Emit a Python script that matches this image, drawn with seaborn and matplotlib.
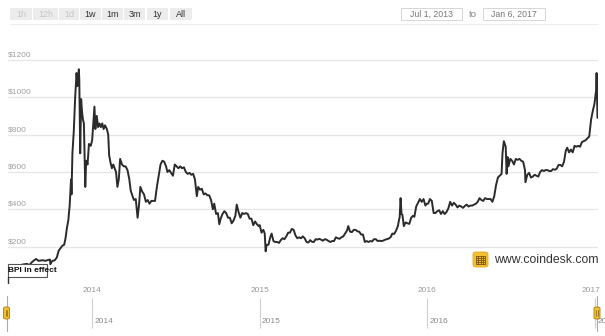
import matplotlib
matplotlib.use("Agg")
import matplotlib.pyplot as plt
import seaborn as sns
import pandas as pd
from matplotlib.patches import Rectangle, FancyBboxPatch
from matplotlib.lines import Line2D
import matplotlib.transforms as mtransforms

# ---------------- data ----------------
dates_2013 = ["2013-07-01", "2013-07-05", "2013-07-09", "2013-07-13", "2013-07-18", "2013-07-23",
              "2013-07-28", "2013-08-02", "2013-08-07", "2013-08-12", "2013-08-17", "2013-08-22",
              "2013-08-27", "2013-09-01", "2013-09-06", "2013-09-11", "2013-09-16", "2013-09-21",
              "2013-09-26", "2013-10-01", "2013-10-02", "2013-10-06", "2013-10-11", "2013-10-16",
              "2013-10-20", "2013-10-24", "2013-10-28", "2013-11-01", "2013-11-04", "2013-11-07",
              "2013-11-10", "2013-11-13", "2013-11-16", "2013-11-17", "2013-11-19", "2013-11-22",
              "2013-11-25", "2013-11-28", "2013-11-30", "2013-12-03", "2013-12-04", "2013-12-06",
              "2013-12-08", "2013-12-10", "2013-12-12", "2013-12-14", "2013-12-17", "2013-12-19",
              "2013-12-22", "2013-12-25", "2013-12-29"]
prices_2013 = [97, 78, 76, 94, 90, 93,
               96, 104, 106, 108, 101, 115,
               126, 134, 124, 126, 127, 124,
               128, 131, 106, 124, 126, 142,
               178, 192, 205, 210, 245, 300,
               340, 420, 560, 480, 700, 820,
               1000, 1130, 1060, 1150, 1090, 700,
               990, 920, 880, 860, 520, 660,
               640, 750, 740]

dates_2014 = ["2014-01-01", "2014-01-04", "2014-01-06", "2014-01-08", "2014-01-11", "2014-01-14",
              "2014-01-17", "2014-01-20", "2014-01-23", "2014-01-26", "2014-01-29", "2014-02-02",
              "2014-02-05", "2014-02-07", "2014-02-10", "2014-02-13", "2014-02-16", "2014-02-19",
              "2014-02-22", "2014-02-25", "2014-02-28", "2014-03-03", "2014-03-07", "2014-03-11",
              "2014-03-15", "2014-03-19", "2014-03-23", "2014-03-26", "2014-03-30", "2014-04-02",
              "2014-04-06", "2014-04-10", "2014-04-13", "2014-04-16", "2014-04-20", "2014-04-24",
              "2014-04-28", "2014-05-02", "2014-05-06", "2014-05-10", "2014-05-14", "2014-05-18",
              "2014-05-22", "2014-05-26", "2014-05-30", "2014-06-03", "2014-06-07", "2014-06-11",
              "2014-06-14", "2014-06-18", "2014-06-22", "2014-06-26", "2014-06-30", "2014-07-04",
              "2014-07-08", "2014-07-12", "2014-07-16", "2014-07-20", "2014-07-24", "2014-07-28",
              "2014-08-01", "2014-08-05", "2014-08-09", "2014-08-13", "2014-08-17", "2014-08-20",
              "2014-08-24", "2014-08-28", "2014-09-01", "2014-09-05", "2014-09-09", "2014-09-13",
              "2014-09-17", "2014-09-21", "2014-09-24", "2014-09-28", "2014-10-02", "2014-10-05",
              "2014-10-08", "2014-10-12", "2014-10-16", "2014-10-20", "2014-10-24", "2014-10-28",
              "2014-11-01", "2014-11-05", "2014-11-09", "2014-11-12", "2014-11-16", "2014-11-20",
              "2014-11-24", "2014-11-28", "2014-12-02", "2014-12-06", "2014-12-10", "2014-12-14",
              "2014-12-18", "2014-12-22", "2014-12-26", "2014-12-30"]
prices_2014 = [770, 880, 950, 830, 900, 840,
               860, 840, 860, 830, 850, 830,
               800, 690, 650, 620, 640, 620,
               600, 520, 560, 670, 640, 630,
               630, 610, 560, 500, 470, 450,
               455, 355, 420, 520, 495, 480,
               440, 450, 430, 445, 445, 445,
               520, 580, 640, 660, 655, 630,
               600, 610, 595, 580, 640, 630,
               620, 630, 620, 625, 600, 590,
               595, 585, 590, 560, 470, 520,
               505, 510, 480, 485, 475, 475,
               450, 400, 430, 375, 380, 320,
               350, 375, 390, 380, 355, 355,
               325, 340, 365, 425, 385, 355,
               380, 375, 380, 375, 350, 350,
               315, 335, 320, 310]

dates_2015 = ["2015-01-01", "2015-01-05", "2015-01-09", "2015-01-12", "2015-01-14", "2015-01-16",
              "2015-01-20", "2015-01-24", "2015-01-27", "2015-01-31", "2015-02-04", "2015-02-08",
              "2015-02-12", "2015-02-16", "2015-02-20", "2015-02-24", "2015-02-28", "2015-03-04",
              "2015-03-08", "2015-03-12", "2015-03-16", "2015-03-20", "2015-03-24", "2015-03-28",
              "2015-04-01", "2015-04-05", "2015-04-09", "2015-04-13", "2015-04-17", "2015-04-21",
              "2015-04-25", "2015-04-29", "2015-05-03", "2015-05-07", "2015-05-11", "2015-05-15",
              "2015-05-19", "2015-05-23", "2015-05-27", "2015-05-31", "2015-06-04", "2015-06-08",
              "2015-06-12", "2015-06-16", "2015-06-20", "2015-06-24", "2015-06-28", "2015-07-02",
              "2015-07-06", "2015-07-10", "2015-07-13", "2015-07-17", "2015-07-21", "2015-07-25",
              "2015-07-29", "2015-08-02", "2015-08-06", "2015-08-10", "2015-08-14", "2015-08-18",
              "2015-08-22", "2015-08-26", "2015-08-30", "2015-09-03", "2015-09-07", "2015-09-11",
              "2015-09-15", "2015-09-19", "2015-09-23", "2015-09-27", "2015-10-01", "2015-10-05",
              "2015-10-09", "2015-10-13", "2015-10-17", "2015-10-21", "2015-10-25", "2015-10-29",
              "2015-11-02", "2015-11-04", "2015-11-06", "2015-11-08", "2015-11-11", "2015-11-15",
              "2015-11-19", "2015-11-23", "2015-11-27", "2015-12-01", "2015-12-04", "2015-12-08",
              "2015-12-12", "2015-12-16", "2015-12-20", "2015-12-24", "2015-12-28", "2015-12-31"]
prices_2015 = [315, 275, 290, 270, 175, 210,
               210, 250, 270, 230, 225, 225,
               220, 235, 245, 240, 255, 275,
               275, 295, 290, 260, 245, 250,
               245, 255, 245, 225, 222, 235,
               226, 225, 240, 238, 242, 237,
               232, 240, 237, 230, 225, 230,
               230, 250, 245, 242, 250, 255,
               270, 285, 310, 280, 278, 290,
               290, 282, 280, 265, 265, 225,
               230, 225, 230, 228, 240, 240,
               230, 232, 230, 232, 237, 240,
               243, 250, 270, 268, 285, 310,
               360, 460, 375, 370, 310, 330,
               325, 322, 355, 365, 360, 415,
               435, 455, 440, 455, 420, 430]

dates_2016 = ["2016-01-03", "2016-01-07", "2016-01-11", "2016-01-15", "2016-01-19", "2016-01-23",
              "2016-01-27", "2016-01-31", "2016-02-04", "2016-02-08", "2016-02-12", "2016-02-16",
              "2016-02-20", "2016-02-24", "2016-02-28", "2016-03-03", "2016-03-07", "2016-03-11",
              "2016-03-15", "2016-03-19", "2016-03-23", "2016-03-27", "2016-03-31", "2016-04-04",
              "2016-04-08", "2016-04-12", "2016-04-16", "2016-04-20", "2016-04-24", "2016-04-28",
              "2016-05-02", "2016-05-06", "2016-05-10", "2016-05-14", "2016-05-18", "2016-05-22",
              "2016-05-26", "2016-05-30", "2016-06-03", "2016-06-07", "2016-06-11", "2016-06-13",
              "2016-06-16", "2016-06-18", "2016-06-20", "2016-06-22", "2016-06-24", "2016-06-26",
              "2016-06-30", "2016-07-04", "2016-07-08", "2016-07-12", "2016-07-16", "2016-07-20",
              "2016-07-24", "2016-07-28", "2016-08-01", "2016-08-02", "2016-08-06", "2016-08-10",
              "2016-08-14", "2016-08-18", "2016-08-22", "2016-08-26", "2016-08-30", "2016-09-03",
              "2016-09-07", "2016-09-11", "2016-09-15", "2016-09-19", "2016-09-23", "2016-09-27",
              "2016-10-01", "2016-10-05", "2016-10-09", "2016-10-13", "2016-10-17", "2016-10-21",
              "2016-10-25", "2016-10-29", "2016-11-01", "2016-11-05", "2016-11-09", "2016-11-13",
              "2016-11-17", "2016-11-21", "2016-11-25", "2016-11-29", "2016-12-03", "2016-12-07",
              "2016-12-11", "2016-12-15", "2016-12-19", "2016-12-23", "2016-12-27", "2016-12-30",
              "2017-01-01", "2017-01-02", "2017-01-03", "2017-01-04", "2017-01-05", "2017-01-06"]
prices_2016 = [430, 455, 445, 380, 380, 390,
               395, 375, 390, 375, 385, 405,
               440, 420, 435, 425, 410, 420,
               415, 408, 418, 425, 415, 420,
               420, 425, 430, 440, 460, 450,
               445, 460, 455, 455, 455, 440,
               470, 530, 570, 580, 590, 700,
               765, 750, 735, 590, 680, 630,
               670, 660, 640, 670, 665, 670,
               660, 655, 610, 545, 585, 595,
               570, 575, 585, 580, 575, 600,
               610, 605, 610, 610, 605, 605,
               615, 612, 617, 637, 638, 630,
               655, 715, 730, 705, 720, 705,
               740, 735, 740, 735, 760, 765,
               770, 780, 790, 880, 930, 960,
               995, 1020, 1035, 1130, 995, 890]

dates = dates_2013 + dates_2014 + dates_2015 + dates_2016
prices = prices_2013 + prices_2014 + prices_2015 + prices_2016

year_ticks = ["2014-01-01", "2015-01-01", "2016-01-01", "2017-01-01"]
year_labels = ["2014", "2015", "2016", "2017"]
price_ticks = [200, 400, 600, 800, 1000, 1200]
price_labels = ["$200", "$400", "$600", "$800", "$1000", "$1200"]
range_buttons = ["1h", "12h", "1d", "1w", "1m", "3m", "1y", "All"]
range_enabled = [False, False, False, True, True, True, True, True]
date_from = "Jul 1, 2013"
date_to = "Jan 6, 2017"
x_start = "2013-07-01"
x_end = "2017-01-06"

# ---------------- style ----------------
sns.set_theme(style="white")
plt.rcParams["font.family"] = ["Liberation Sans", "DejaVu Sans"]

W, H = 605, 336
fig = plt.figure(figsize=(W / 100, H / 100), dpi=100)
fig.patch.set_facecolor("white")


def prect(x0, y0, x1, y1, **kw):
    return Rectangle((x0 / W, 1 - y1 / H), (x1 - x0) / W, (y1 - y0) / H,
                     transform=fig.transFigure, **kw)


def ptext(x, y, s, **kw):
    return fig.text(x / W, 1 - y / H, s, **kw)


def pline(x0, y0, x1, y1, **kw):
    fig.add_artist(Line2D([x0 / W, x1 / W], [1 - y0 / H, 1 - y1 / H],
                          transform=fig.transFigure, **kw))


# ---------------- main chart ----------------
AX_L, AX_R, AX_T, AX_B = 7.7, 597.5, 45, 284
ax = fig.add_axes([AX_L / W, 1 - AX_B / H, (AX_R - AX_L) / W, (AX_B - AX_T) / H])
df = pd.DataFrame({"date": pd.to_datetime(dates), "price": prices})
sns.lineplot(data=df, x="date", y="price", ax=ax, color="#2b2b2b", linewidth=1.4,
             zorder=3)
ax.set_xlim(pd.Timestamp(x_start), pd.Timestamp(x_end))
ax.set_ylim(0, 1280)
ax.set_xlabel("")
ax.set_ylabel("")
for s in ax.spines.values():
    s.set_visible(False)
ax.set_yticks(price_ticks)
ax.set_yticklabels([])
ax.yaxis.grid(True, color="#e6e6e6", linewidth=0.9)
ax.xaxis.grid(False)
ax.tick_params(axis="both", length=0)
ax.set_xticks(pd.to_datetime(year_ticks))
ax.set_xticklabels(year_labels, fontsize=6, color="#9a9a9a")
ax.tick_params(axis="x", pad=2.5)
last = ax.get_xticklabels()[-1]
last.set_transform(last.get_transform() +
                   mtransforms.ScaledTranslation(-4 / 100, 0, fig.dpi_scale_trans))
ax.patch.set_alpha(0)

ytrans = mtransforms.blended_transform_factory(ax.transAxes, ax.transData)
for v, lab in zip(price_ticks, price_labels):
    ax.text(0.0, v, lab, transform=ytrans + mtransforms.ScaledTranslation(0, 1.5 / 100, fig.dpi_scale_trans),
            ha="left", va="bottom", fontsize=6, color="#a0a0a0")

# BPI in effect box
fig.add_artist(prect(7.7, 263.5, 47, 277, facecolor="white", edgecolor="#555555",
                     linewidth=0.8, zorder=1))
ptext(8, 271, "BPI in effect", fontsize=6, fontweight="bold", color="#111111",
      ha="left", va="center", zorder=10)
pline(8, 277, 8, 283, color="#333333", linewidth=1.0)

# watermark
fig.add_artist(FancyBboxPatch((473 / W, 1 - 267 / H), 15 / W, 15 / H,
                              boxstyle="round,pad=0,rounding_size=0.006",
                              transform=fig.transFigure, facecolor="#f3bf33",
                              edgecolor="#e0a820", linewidth=0.6, zorder=5))
for i in range(5):
    pline(476 + i * 2.3, 255.5, 476 + i * 2.3, 263.5, color="#7a5310", linewidth=0.6, zorder=6)
    pline(476, 255.5 + i * 2, 485.2, 255.5 + i * 2, color="#7a5310", linewidth=0.6, zorder=6)
ptext(494, 260, "www.coindesk.com", fontsize=8.8, color="#333333", ha="left", va="center")

# ---------------- navigator ----------------
NAV_T, NAV_B = 296, 331
nav = fig.add_axes([AX_L / W, 1 - NAV_B / H, (AX_R - AX_L) / W, (NAV_B - NAV_T) / H])
nav.set_xlim(pd.Timestamp(x_start), pd.Timestamp(x_end))
nav.set_ylim(0, 1)
nav.axis("off")
nav.vlines(pd.to_datetime(year_ticks), 0.1, 0.93, color="#cfcfcf", linewidth=0.8)
for d, lab in zip(pd.to_datetime(year_ticks), year_labels):
    nav.text(d, 0.28, lab, transform=nav.transData +
             mtransforms.ScaledTranslation(2 / 100, 0, fig.dpi_scale_trans),
             ha="left", va="center", fontsize=6, color="#8a8a8a", clip_on=False)

for hx in (6.5, 597):
    pline(hx, 296, hx, 331, color="#aaaaaa", linewidth=0.8)
    fig.add_artist(FancyBboxPatch(((hx - 3) / W, 1 - 319 / H), 6 / W, 12 / H,
                                  boxstyle="round,pad=0,rounding_size=0.004",
                                  transform=fig.transFigure, facecolor="#f2c02c",
                                  edgecolor="#a77a12", linewidth=0.6, zorder=5))
    pline(hx - 0.8, 310, hx - 0.8, 316, color="#8a6210", linewidth=0.5, zorder=6)
    pline(hx + 0.8, 310, hx + 0.8, 316, color="#8a6210", linewidth=0.5, zorder=6)

# ---------------- top bar ----------------
btn_x = [(10, 32), (33, 58), (59, 79), (80, 101), (102, 123), (124, 145), (147, 168), (170, 192)]
for (x0, x1), lab, en in zip(btn_x, range_buttons, range_enabled):
    fig.add_artist(prect(x0, 8, x1, 20, facecolor="#ececec", edgecolor="none"))
    ptext((x0 + x1) / 2, 14.3, lab, fontsize=6.5, ha="center", va="center",
          color="#333333" if en else "#c6c6c6")

pline(10, 23.5, 598, 23.5, color="#eeeeee", linewidth=0.8)

fig.add_artist(prect(401, 8, 462, 20, facecolor="white", edgecolor="#d6d6d6", linewidth=0.7))
ptext(431.5, 14.3, date_from, fontsize=6.3, ha="center", va="center", color="#777777")
ptext(473, 14.3, "to", fontsize=6.8, ha="center", va="center", color="#888888")
fig.add_artist(prect(483, 8, 545, 20, facecolor="white", edgecolor="#d6d6d6", linewidth=0.7))
ptext(514, 14.3, date_to, fontsize=6.3, ha="center", va="center", color="#777777")

fig.savefig("out.png", dpi=100, facecolor="white")
